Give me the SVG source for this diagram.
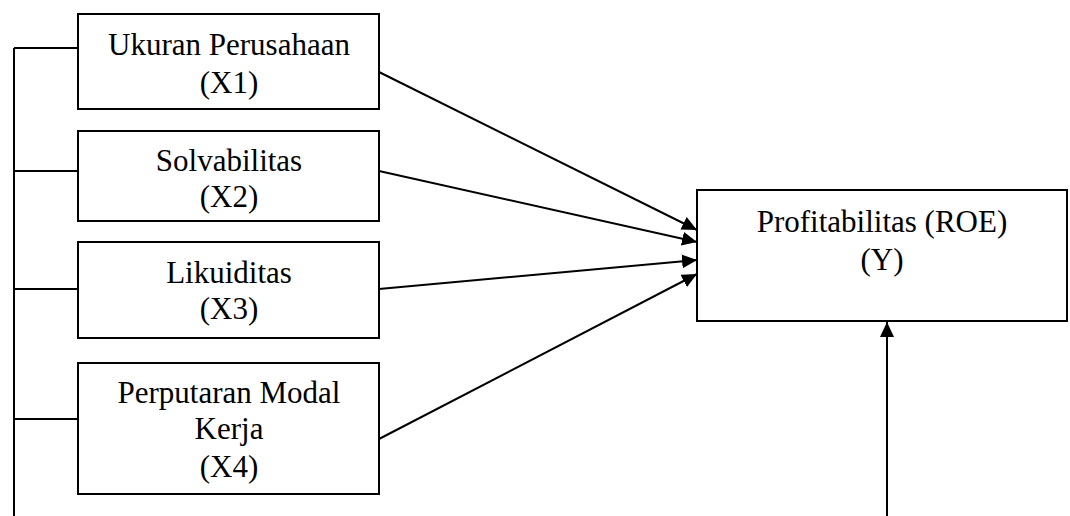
<svg xmlns="http://www.w3.org/2000/svg" width="1070" height="516" viewBox="0 0 1070 516">
<style>
.box{fill:#fff;stroke:#000;stroke-width:2}
.ln{fill:none;stroke:#000;stroke-width:2}
text{font-family:"Liberation Serif","Times New Roman",serif;font-size:31px;fill:#000;text-anchor:middle}
</style>
<defs>
<marker id="ah" markerUnits="userSpaceOnUse" markerWidth="16" markerHeight="14" refX="15" refY="7" orient="auto">
<path d="M0,0 L15,7 L0,14 Z" fill="#000"/>
</marker>
</defs>
<rect width="1070" height="516" fill="#fff"/>
<g id="connectors">
<path class="ln" d="M14,48 V516"/>
<path class="ln" d="M14,48 H78"/>
<path class="ln" d="M14,171 H78"/>
<path class="ln" d="M14,289 H78"/>
<path class="ln" d="M14,419 H78"/>
<line class="ln" x1="379" y1="72" x2="697" y2="230" marker-end="url(#ah)"/>
<line class="ln" x1="379" y1="171" x2="697" y2="242" marker-end="url(#ah)"/>
<line class="ln" x1="379" y1="289" x2="697" y2="260" marker-end="url(#ah)"/>
<line class="ln" x1="379" y1="439" x2="697" y2="274" marker-end="url(#ah)"/>
<line class="ln" x1="887" y1="516" x2="887" y2="322" marker-end="url(#ah)"/>
</g>
<g id="x1">
<rect class="box" x="78" y="14" width="301" height="95"/>
<text x="229" y="55">Ukuran Perusahaan</text>
<text x="229" y="93">(X1)</text>
</g>
<g id="x2">
<rect class="box" x="78" y="131" width="301" height="90"/>
<text x="229" y="171">Solvabilitas</text>
<text x="229" y="207">(X2)</text>
</g>
<g id="x3">
<rect class="box" x="78" y="242" width="301" height="96"/>
<text x="229" y="283">Likuiditas</text>
<text x="229" y="319">(X3)</text>
</g>
<g id="x4">
<rect class="box" x="78" y="363" width="301" height="131"/>
<text x="229" y="403">Perputaran Modal</text>
<text x="229" y="439">Kerja</text>
<text x="229" y="477">(X4)</text>
</g>
<g id="y">
<rect class="box" x="697" y="190" width="370" height="131"/>
<text x="882" y="232">Profitabilitas (ROE)</text>
<text x="882" y="270">(Y)</text>
</g>
</svg>
